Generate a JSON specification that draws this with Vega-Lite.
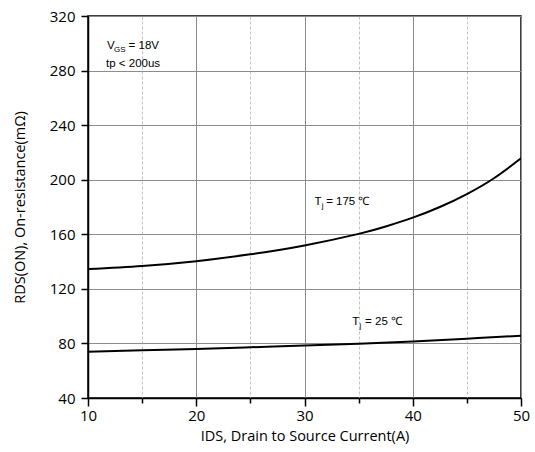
{
  "$schema": "https://vega.github.io/schema/vega-lite/v6.json",
  "autosize": {"type": "none"},
  "padding": {"left": 88, "top": 16, "right": 14, "bottom": 54},
  "width": 433,
  "height": 382,
  "background": "white",
  "config": {
    "view": {"stroke": "black", "strokeWidth": 1.5},
    "axis": {
      "labelFont": "Open Sans",
      "titleFont": "Open Sans",
      "labelFontSize": 15,
      "titleFontSize": 14.5,
      "labelColor": "black",
      "titleColor": "black",
      "titleFontWeight": "normal",
      "domainColor": "black",
      "domainWidth": 1.5,
      "tickColor": "black",
      "tickWidth": 1.5
    }
  },
  "datasets": {
    "curves": [
      {"I": 10, "R": 134.5, "T": "175"},
      {"I": 15, "R": 136.8, "T": "175"},
      {"I": 20, "R": 140.3, "T": "175"},
      {"I": 25, "R": 145.3, "T": "175"},
      {"I": 30, "R": 151.8, "T": "175"},
      {"I": 35, "R": 160.3, "T": "175"},
      {"I": 37.5, "R": 165.7, "T": "175"},
      {"I": 40, "R": 172.2, "T": "175"},
      {"I": 42.5, "R": 180.0, "T": "175"},
      {"I": 45, "R": 189.5, "T": "175"},
      {"I": 47.5, "R": 201.1, "T": "175"},
      {"I": 50, "R": 215.7, "T": "175"},
      {"I": 10, "R": 73.9, "T": "25"},
      {"I": 15, "R": 75.0, "T": "25"},
      {"I": 20, "R": 76.0, "T": "25"},
      {"I": 25, "R": 77.2, "T": "25"},
      {"I": 30, "R": 78.4, "T": "25"},
      {"I": 35, "R": 79.8, "T": "25"},
      {"I": 40, "R": 81.5, "T": "25"},
      {"I": 45, "R": 83.5, "T": "25"},
      {"I": 50, "R": 85.6, "T": "25"}
    ],
    "mainText": [
      {"x": 11.76, "y": 295.8, "t": "V"},
      {"x": 13.75, "y": 295.8, "t": "= 18V"},
      {"x": 11.67, "y": 282.6, "t": "tp < 200us"},
      {"x": 30.93, "y": 181.4, "t": "T"},
      {"x": 32.0, "y": 181.4, "t": "= 175 ℃"},
      {"x": 34.4, "y": 93.5, "t": "T"},
      {"x": 35.6, "y": 93.5, "t": "= 25 ℃"}
    ],
    "subText": [
      {"x": 12.41, "y": 293.6, "t": "GS"},
      {"x": 31.6, "y": 179.2, "t": "j"},
      {"x": 35.07, "y": 91.3, "t": "j"}
    ]
  },
  "layer": [
    {
      "data": {"name": "curves"},
      "mark": {"type": "line", "color": "black", "strokeWidth": 2, "interpolate": "natural", "clip": true},
      "encoding": {
        "x": {
          "field": "I", "type": "quantitative",
          "scale": {"domain": [10, 50], "nice": false, "zero": false},
          "axis": {
            "values": [10, 15, 20, 25, 30, 35, 40, 45, 50],
            "labelExpr": "datum.value % 10 === 0 ? datum.label : ''",
            "title": "IDS, Drain to Source Current(A)",
            "grid": true,
            "gridColor": {"condition": {"test": "datum.value % 10 === 5", "value": "#c4c4c4"}, "value": "#8c8c8c"},
            "gridDash": {"condition": {"test": "datum.value % 10 === 5", "value": [3, 2]}, "value": []},
            "gridWidth": 1,
            "tickSize": {"condition": {"test": "datum.value % 10 === 5", "value": 5}, "value": 8},
            "labelPadding": 2,
            "titlePadding": 6,
            "labelFlush": false
          }
        },
        "y": {
          "field": "R", "type": "quantitative",
          "scale": {"domain": [40, 320], "nice": false, "zero": false},
          "axis": {
            "values": [40, 60, 80, 100, 120, 140, 160, 180, 200, 220, 240, 260, 280, 300, 320],
            "labelExpr": "datum.value % 40 === 0 ? datum.label : ''",
            "title": "RDS(ON), On-resistance(mΩ)",
            "grid": true,
            "gridColor": {"condition": {"test": "datum.value % 40 === 20", "value": "#c4c4c4"}, "value": "#8c8c8c"},
            "gridDash": {"condition": {"test": "datum.value % 40 === 20", "value": [3, 2]}, "value": []},
            "gridWidth": 1,
            "tickSize": 7,
            "labelPadding": 6,
            "titlePadding": 22,
            "labelFlush": false
          }
        },
        "detail": {"field": "T"}
      }
    },
    {
      "data": {"name": "mainText"},
      "mark": {"type": "text", "font": "Liberation Sans", "fontSize": 11.5, "align": "left", "baseline": "alphabetic", "color": "black"},
      "encoding": {
        "x": {"field": "x", "type": "quantitative"},
        "y": {"field": "y", "type": "quantitative"},
        "text": {"field": "t"}
      }
    },
    {
      "data": {"name": "subText"},
      "mark": {"type": "text", "font": "Liberation Sans", "fontSize": 8, "align": "left", "baseline": "alphabetic", "color": "black"},
      "encoding": {
        "x": {"field": "x", "type": "quantitative"},
        "y": {"field": "y", "type": "quantitative"},
        "text": {"field": "t"}
      }
    }
  ]
}
